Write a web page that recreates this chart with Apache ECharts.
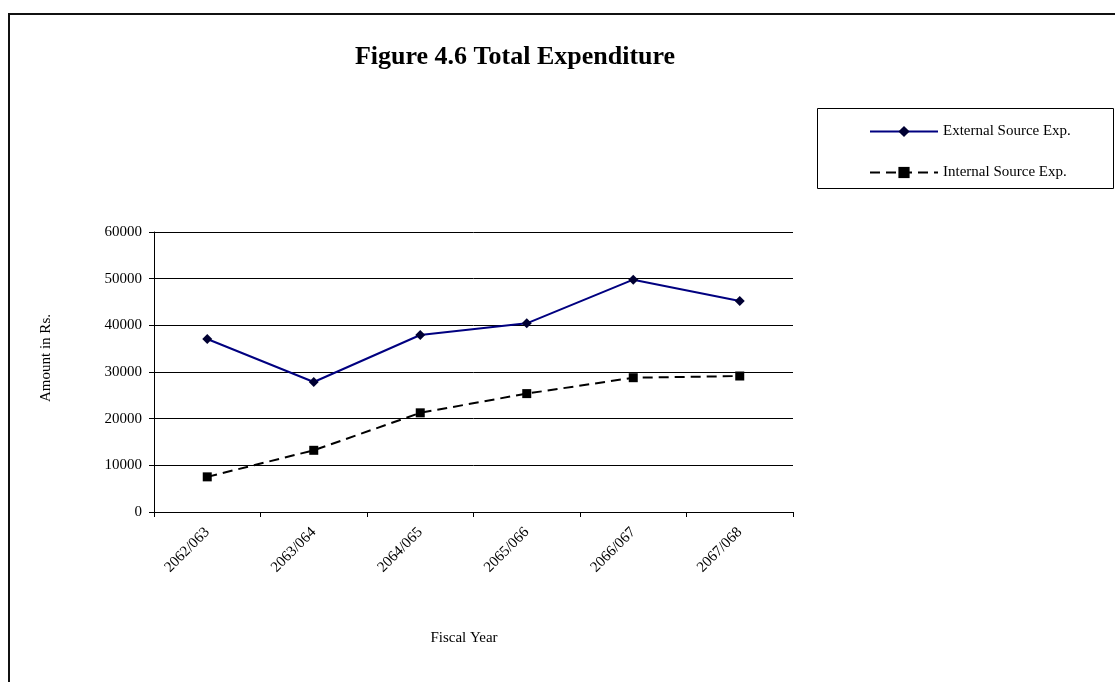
<!DOCTYPE html>
<html>
<head>
<meta charset="utf-8">
<script src="https://cdn.jsdelivr.net/npm/echarts@6/dist/echarts.min.js"></script>
<style>
  html, body { margin: 0; padding: 0; background: #fff; }
  #chart { width: 1115px; height: 682px; }
</style>
</head>
<body>
<div id="chart"></div>
<script>
// Fiscal years (Nepali calendar)
const fiscalYears = ['2062/063', '2063/064', '2064/065', '2065/066', '2066/067', '2067/068'];
// Expenditure in Rs.
const externalExp = [37070, 27860, 37920, 40430, 49790, 45200];
const internalExp = [7530, 13220, 21250, 25370, 28780, 29140];
// Value axis ticks
const yMin = 0, yMax = 60000, yStep = 10000;

const serif = '"Liberation Serif", "Times New Roman", serif';
const chart = echarts.init(document.getElementById('chart'));

chart.setOption({
  animation: false,
  backgroundColor: '#fff',
  textStyle: { fontFamily: serif },
  title: {
    text: 'Figure 4.6 Total Expenditure',
    left: 510, top: 39, textAlign: 'center',
    textStyle: { fontFamily: serif, fontSize: 26, fontWeight: 'bold', color: '#000' }
  },
  graphic: [
    // outer frame
    { type: 'rect', shape: { x: 9, y: 14, width: 1200, height: 800 },
      style: { fill: 'none', stroke: '#111', lineWidth: 2 }, silent: true },
    // legend frame
    { type: 'rect', shape: { x: 817.5, y: 108.5, width: 296, height: 80 },
      style: { fill: '#fff', stroke: '#000', lineWidth: 1 }, silent: true, z: 0 },
    // axis titles
    { type: 'text', x: 464, y: 638, silent: true,
      style: { text: 'Fiscal Year', font: '15px ' + serif, fill: '#000',
               textAlign: 'center', textVerticalAlign: 'middle' } },
    { type: 'text', x: 46, y: 358, rotation: Math.PI / 2, silent: true,
      style: { text: 'Amount in Rs.', font: '15px ' + serif, fill: '#000',
               textAlign: 'center', textVerticalAlign: 'middle' } }
  ],
  legend: {
    orient: 'vertical', left: 864, top: 119, itemGap: 26,
    itemWidth: 68, itemHeight: 14,
    textStyle: { fontFamily: serif, fontSize: 15, color: '#000', padding: [0, 0, 0, 0] },
    data: ['External Source Exp.', 'Internal Source Exp.'],
    z: 5
  },
  grid: { left: 154, right: 322, top: 232, bottom: 170, containLabel: false },
  xAxis: {
    type: 'category', data: fiscalYears, boundaryGap: true,
    axisLine: { lineStyle: { color: '#000', width: 1 } },
    axisTick: { show: true, length: 5, lineStyle: { color: '#000' } },
    axisLabel: { rotate: 45, margin: 18, fontFamily: serif, fontSize: 15, color: '#000' },
    splitLine: { show: false }
  },
  yAxis: {
    type: 'value', min: yMin, max: yMax, interval: yStep,
    axisLine: { show: true, lineStyle: { color: '#000', width: 1 } },
    axisTick: { show: true, length: 5, lineStyle: { color: '#000' } },
    axisLabel: { margin: 12, fontFamily: serif, fontSize: 15, color: '#000',
                 formatter: v => String(v) },
    splitLine: { show: true, lineStyle: { color: '#000', width: 1 } }
  },
  series: [
    {
      name: 'External Source Exp.', type: 'line', data: externalExp,
      symbol: 'diamond', symbolSize: 10,
      lineStyle: { color: '#000080', width: 2 },
      itemStyle: { color: '#000033', borderColor: '#000033', borderWidth: 0 },
      color: '#000080', z: 3
    },
    {
      name: 'Internal Source Exp.', type: 'line', data: internalExp,
      symbol: 'rect', symbolSize: 9,
      lineStyle: { color: '#000', width: 2, type: [10, 6] },
      itemStyle: { color: '#000' },
      color: '#000', z: 3
    }
  ]
});
</script>
</body>
</html>
